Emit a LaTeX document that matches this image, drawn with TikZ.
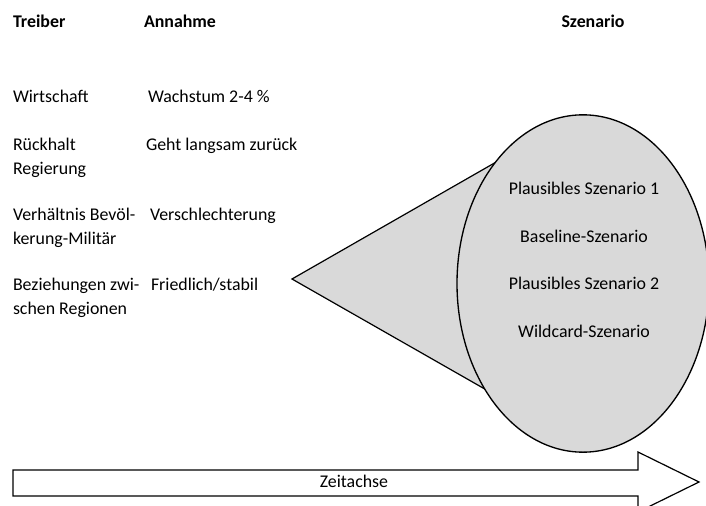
\documentclass[tikz,border=0pt]{standalone}
\usepackage{fontspec}
\setmainfont{Carlito}
\usetikzlibrary{shapes,positioning,backgrounds}
\definecolor{szengrau}{HTML}{D9D9D9}

\begin{document}
\begin{tikzpicture}[x=0.75pt,y=-0.75pt,
  every node/.style={font=\fontsize{13.4}{18}\selectfont,inner sep=0pt,outer sep=0pt},
  txt/.style={anchor=base west,align=left},
  hdr/.style={txt,font=\fontsize{13.4}{18}\selectfont\bfseries},
  szen/.style={anchor=base}]

        \clip (0,0) rectangle (706,506);

        % Kopfzeile
        \node[hdr] (treiber) at (13,28) {Treiber};
        \node[hdr] (annahme) at (144,28) {Annahme};
        \node[hdr,anchor=base] (szenario) at (593,28) {Szenario};

        % Treiber (Basislinie der letzten Zeile)
        \node[txt] (wirt) at (13,103) {Wirtschaft};
        \node[txt] (rueck) at (13,175) {Rückhalt\\Regierung};
        \node[txt] (verh) at (13,244) {Verhältnis Bevöl-\\kerung-Militär};
        \node[txt] (bez) at (13,314) {Beziehungen zwi-\\schen Regionen};

        % Annahmen
        \node[txt] (wachs) at (148,103) {Wachstum 2-4 \%};
        \node[txt] (geht) at (146,151) {Geht langsam zurück};
        \node[txt] (versch) at (150,220) {Verschlechterung};
        \node[txt] (fried) at (151,290) {Friedlich/stabil};

        % Trichter
        \node (kegel) at (583,283.5) [ellipse,draw,fill=szengrau,line width=1pt,
          minimum width=189pt,minimum height=253pt] {};
        \coordinate (spitze) at (292,279);
        \begin{scope}[on background layer]
          \draw[fill=szengrau,line width=0.9pt] (spitze) -- (kegel.126) -- (kegel.227) -- cycle;
        \end{scope}

        \node[szen] (s1) at (584,195) {Plausibles Szenario 1};
        \node[szen] (s2) at (584,242) {Baseline-Szenario};
        \node[szen] (s3) at (584,289) {Plausibles Szenario 2};
        \node[szen] (s4) at (584,337) {Wildcard-Szenario};

        % Zeitachse
        \draw[line width=0.9pt] (13,470) -- (638,470) -- (638,452) -- (699,482)
          -- (638,512) -- (638,496) -- (13,496) -- cycle;
        \node[szen] (zeit) at (354,487) {Zeitachse};
      \end{tikzpicture}
\end{document}
